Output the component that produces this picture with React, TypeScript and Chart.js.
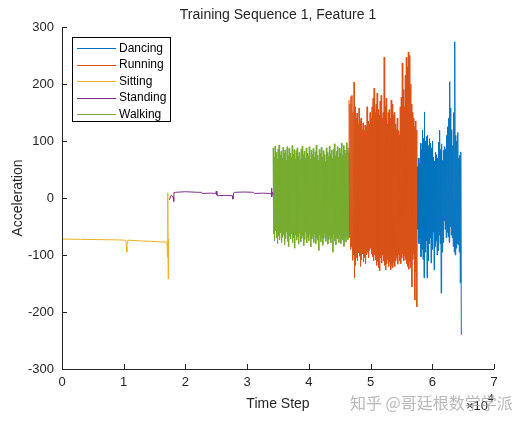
import React, { useEffect, useRef } from "react";
import { Chart, registerables } from "chart.js";

Chart.register(...registerables);

const chartTitle = "Training Sequence 1, Feature 1";
const xTitle = "Time Step";
const yTitle = "Acceleration";
const watermark = "知乎 @哥廷根数学学派";

const legendLabels = ["Dancing", "Running", "Sitting", "Standing", "Walking"];
const seriesColors = ["#0072BD", "#D95319", "#EDB120", "#7E2F8E", "#77AC30"];

const xTickValues = [0, 10000, 20000, 30000, 40000, 50000, 60000, 70000];
const yTickValues = [-300, -200, -100, 0, 100, 200, 300];

// Sitting (slow drift, with spikes)
const sittingX = [0, 3000, 6000, 9000, 10350, 10450, 10500, 10550, 10650, 11500, 13000, 14500, 16000, 17000, 17080, 17110, 17140, 17170, 17200, 17230, 17260, 17300];
const sittingY = [-72, -72.5, -73, -73.5, -74, -86, -95, -80, -74, -74.5, -75.5, -76, -77, -77.5, -100, -62, -104, 9, -142, -95, -72, -76];

// Standing (near constant with small steps)
const standingX = [17400, 17700, 18000, 18100, 18150, 18250, 18400, 20000, 22000, 22600, 22700, 24000, 24900, 25000, 25100, 25300, 26500, 27600, 27700, 27800, 28000, 29500, 31000, 31200, 32500, 33600, 33900, 33950, 34000, 34100, 34200];
const standingY = [-3, 5, 2, -6, 10, 9, 10, 11, 10, 10, 8, 8.5, 8, 12, 5, 4, 4.5, 4, -2, 9, 10, 10.5, 10, 8, 8.5, 8, 8, 17, 2, 10, 6];

// Walking: upper / lower excursions, read column by column
const walkingRange = [34200, 46500];
const walkingHigh = [88, 72, 91, 80, 68, 86, 93, 75, 82, 70, 89, 78, 84, 66, 90, 74, 87, 79, 71, 92, 77, 85, 69, 83, 88, 73, 80, 67, 86, 91, 76, 82, 70, 88, 79, 74, 90, 68, 84, 77, 87, 72, 81, 93, 75, 66, 85, 78, 89, 71, 83, 76, 64, 88, 80, 73, 91, 77, 84, 69, 86, 95, 74, 82, 90, 71, 87, 79, 96, 75, 92, 84, 78, 97, 88, 80];
const walkingLow = [-62, -75, -58, -70, -80, -66, -73, -61, -78, -69, -64, -82, -71, -60, -76, -85, -67, -72, -63, -79, -70, -88, -65, -74, -68, -81, -62, -77, -71, -66, -84, -73, -60, -79, -69, -75, -64, -86, -72, -67, -78, -63, -80, -70, -74, -92, -65, -77, -69, -83, -71, -62, -76, -68, -81, -73, -66, -79, -70, -95, -64, -75, -82, -68, -72, -78, -65, -80, -71, -74, -85, -69, -77, -66, -73, -70];

// Running
const runningRange = [46500, 57500];
const runningHigh = [172, 165, 178, 180, 150, 203, 160, 140, 149, 130, 158, 135, 140, 120, 132, 118, 128, 125, 160, 135, 130, 150, 140, 160, 175, 193, 150, 165, 184, 155, 145, 170, 180, 140, 150, 247, 160, 175, 130, 150, 155, 140, 172, 165, 145, 150, 130, 120, 140, 118, 110, 160, 177, 237, 190, 160, 215, 247, 230, 256, 250, 200, 165, 150, 140, 125, 135, 119];
const runningLow = [-68, -90, -85, -109, -100, -140, -118, -105, -110, -96, -102, -120, -108, -98, -112, -104, -115, -100, -95, -105, -92, -88, -98, -103, -110, -100, -108, -118, -112, -122, -128, -105, -114, -100, -110, -118, -126, -115, -108, -120, -112, -126, -118, -122, -113, -120, -110, -105, -116, -100, -110, -115, -105, -98, -110, -102, -108, -115, -120, -125, -112, -122, -156, -108, -98, -179, -130, -191];

// Dancing
const dancingRange = [57600, 64700];
const dancingHigh = [55, 70, 61, 96, 85, 119, 105, 151, 100, 108, 110, 92, 104, 96, 88, 100, 72, 65, 80, 76, 70, 98, 119, 85, 95, 66, 84, 90, 86, 110, 125, 140, 204, 158, 120, 92, 150, 274, 110, 100, 115, 70, 75, 81];
const dancingLow = [-55, -80, -70, -103, -90, -108, -140, -95, -75, -140, -110, -80, -70, -114, -90, -60, -126, -85, -75, -100, -92, -65, -80, -167, -95, -78, -40, -55, -70, -60, -68, -78, -50, -65, -70, -85, -95, -100, -88, -80, -82, -95, -149, -240];

type Pt = { x: number; y: number };

function pairs(xs: number[], ys: number[]): Pt[] {
  return xs.map((x, i) => ({ x, y: ys[i] }));
}

function zigzag(range: number[], high: number[], low: number[]): Pt[] {
  const n = high.length * 2;
  const step = (range[1] - range[0]) / (n - 1);
  const out: Pt[] = [];
  for (let i = 0; i < high.length; i++) {
    out.push({ x: range[0] + 2 * i * step, y: high[i] });
    out.push({ x: range[0] + (2 * i + 1) * step, y: low[i] });
  }
  return out;
}

const FONT = "'Liberation Sans', Arial, Helvetica, sans-serif";
const INK = "#262626";

const decorPlugin = {
  id: "decor",
  afterDraw(chart: any) {
    const ctx = chart.ctx as CanvasRenderingContext2D;
    const { left, right, top, bottom } = chart.chartArea;
    const xs = chart.scales.x;
    const ys = chart.scales.y;
    ctx.save();
    // axes lines
    ctx.strokeStyle = INK;
    ctx.lineWidth = 1;
    ctx.beginPath();
    ctx.moveTo(left + 0.5, top);
    ctx.lineTo(left + 0.5, bottom + 0.5);
    ctx.lineTo(right, bottom + 0.5);
    ctx.stroke();
    // inward ticks
    ctx.beginPath();
    for (const v of yTickValues) {
      const p = Math.round(ys.getPixelForValue(v)) + 0.5;
      ctx.moveTo(left, p);
      ctx.lineTo(left + 5, p);
    }
    for (const v of xTickValues) {
      const p = Math.round(xs.getPixelForValue(v)) + 0.5;
      ctx.moveTo(p, bottom);
      ctx.lineTo(p, bottom - 5);
    }
    ctx.stroke();

    // title
    ctx.fillStyle = INK;
    ctx.font = `14px ${FONT}`;
    ctx.textAlign = "center";
    ctx.textBaseline = "middle";
    ctx.fillText(chartTitle, (left + right) / 2, 15);
    // x title
    ctx.fillText(xTitle, (left + right) / 2, 404);
    // y title
    ctx.save();
    ctx.translate(18, (top + bottom) / 2);
    ctx.rotate(-Math.PI / 2);
    ctx.fillText(yTitle, 0, 0);
    ctx.restore();

    // exponent
    ctx.textAlign = "left";
    ctx.textBaseline = "alphabetic";
    ctx.font = `13px ${FONT}`;
    ctx.fillText("×10", 466, 410);
    ctx.font = `10px ${FONT}`;
    ctx.fillText("4", 488, 402);

    // legend
    const lx = 72.5, ly = 37.5, lw = 98, lh = 84;
    ctx.fillStyle = "#ffffff";
    ctx.fillRect(lx, ly, lw, lh);
    ctx.strokeStyle = "#000000";
    ctx.strokeRect(lx, ly, lw, lh);
    ctx.font = `12px ${FONT}`;
    ctx.textBaseline = "middle";
    const rows = [48, 64.5, 81, 97.5, 114];
    legendLabels.forEach((label, i) => {
      const yy = Math.round(rows[i]) + 0.5;
      ctx.strokeStyle = seriesColors[i];
      ctx.beginPath();
      ctx.moveTo(77, yy);
      ctx.lineTo(116, yy);
      ctx.stroke();
      ctx.fillStyle = "#000000";
      ctx.fillText(label, 119, rows[i] + 0.5);
    });

    // watermark
    ctx.font = `16px 'Noto Sans CJK SC', sans-serif`;
    ctx.fillStyle = "rgba(160,160,160,0.75)";
    ctx.textBaseline = "middle";
    ctx.fillText(watermark, 350, 403);
    ctx.restore();
  },
};

export default function App() {
  const ref = useRef<HTMLCanvasElement | null>(null);
  useEffect(() => {
    document.body.style.margin = "0";
    const canvas = ref.current!;
    const datasets = [
      zigzag(dancingRange, dancingHigh, dancingLow),
      zigzag(runningRange, runningHigh, runningLow),
      pairs(sittingX, sittingY),
      pairs(standingX, standingY),
      zigzag(walkingRange, walkingHigh, walkingLow),
    ].map((data, i) => ({
      label: legendLabels[i],
      data,
      borderColor: seriesColors[i],
      backgroundColor: seriesColors[i],
      borderWidth: 1,
      pointRadius: 0,
      tension: 0,
      fill: false,
    }));
    const chart = new Chart(canvas, {
      type: "line",
      data: { datasets },
      options: {
        responsive: false,
        animation: false,
        parsing: false as any,
        normalized: true,
        layout: { padding: { top: 27, right: 28, left: 0, bottom: 0 } },
        plugins: {
          legend: { display: false },
          title: { display: false },
          tooltip: { enabled: false },
        },
        scales: {
          x: {
            type: "linear",
            min: 0,
            max: 70000,
            afterFit: (s: any) => {
              s.height = 55;
            },
            afterBuildTicks: (s: any) => {
              s.ticks = xTickValues.map((v) => ({ value: v }));
            },
            grid: { display: false, drawTicks: false },
            border: { display: false },
            ticks: {
              autoSkip: false,
              maxRotation: 0,
              padding: 6,
              color: INK,
              font: { family: FONT, size: 13 },
              callback: (v: any) => String(Number(v) / 10000),
            },
          },
          y: {
            type: "linear",
            min: -300,
            max: 300,
            afterFit: (s: any) => {
              s.width = 62;
            },
            afterBuildTicks: (s: any) => {
              s.ticks = yTickValues.map((v) => ({ value: v }));
            },
            grid: { display: false, drawTicks: false },
            border: { display: false },
            ticks: {
              padding: 8,
              color: INK,
              font: { family: FONT, size: 13 },
              callback: (v: any) => String(v),
            },
          },
        },
      },
      plugins: [decorPlugin],
    });
    return () => chart.destroy();
  }, []);
  return (
    <canvas
      ref={ref}
      width={522}
      height={424}
      style={{ display: "block", width: 522, height: 424 }}
    />
  );
}
